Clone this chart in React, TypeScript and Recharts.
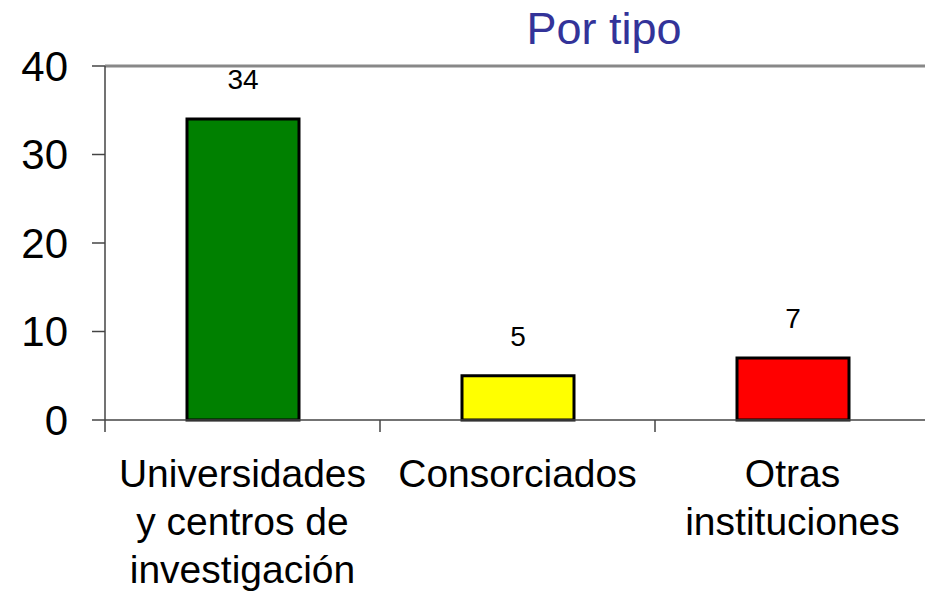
import React from "react";
import { BarChart, Bar, XAxis, YAxis, Cell, ReferenceLine, LabelList } from "recharts";

const categories = ["Universidades y centros de investigación", "Consorciados", "Otras instituciones"];
const categoryLines = [
  ["Universidades", "y centros de", "investigación"],
  ["Consorciados"],
  ["Otras", "instituciones"],
];
const values = [34, 5, 7];
const barColors = ["#008000", "#FFFF00", "#FF0000"];
const yTicks = [0, 10, 20, 30, 40];

const data = categories.map((name, i) => ({ name, value: values[i], idx: i }));

const FONT = "'Liberation Sans', Arial, sans-serif";

const CategoryTick = (props: any) => {
  const { x, y, payload } = props;
  const lines = categoryLines[payload.index] || [payload.value];
  const off = payload.offset || 0;
  return (
    <g>
      <line x1={x - off} x2={x - off} y1={y} y2={y + 12} stroke="#444" strokeWidth={1.5} />
      <text x={x} y={y} textAnchor="middle" fontFamily={FONT} fontSize={39} fill="#000">
        {lines.map((l: string, i: number) => (
          <tspan key={i} x={x} y={y + 67 + i * 48}>
            {l}
          </tspan>
        ))}
      </text>
    </g>
  );
};

const ValueLabel = (props: any) => {
  const { x, y, width, value } = props;
  return (
    <text x={x + width / 2} y={y - 30} textAnchor="middle" fontFamily={FONT} fontSize={28} fill="#000">
      {value}
    </text>
  );
};

export default function App() {
  return (
    <div style={{ position: "absolute", left: 0, top: 0, width: 925, height: 597, overflow: "hidden", background: "#fff" }}>
      <BarChart width={935} height={597} data={data} margin={{ top: 66, right: 5, left: 0, bottom: 0 }} barSize={112}>
        <text x={604} y={44} textAnchor="middle" fontFamily={FONT} fontSize={45} fill="#333399">
          Por tipo
        </text>
        <ReferenceLine y={40} stroke="#888" strokeWidth={3} />
        <XAxis
          dataKey="name"
          height={177}
          tickLine={false}
          tickSize={0}
          tickMargin={0}
          interval={0}
          axisLine={{ stroke: "#444", strokeWidth: 1.5 }}
          tick={<CategoryTick />}
        />
        <YAxis
          width={105}
          domain={[0, 40]}
          ticks={yTicks}
          interval={0}
          tickSize={13}
          tickMargin={24}
          axisLine={{ stroke: "#444", strokeWidth: 1.5 }}
          tickLine={{ stroke: "#444", strokeWidth: 1.5 }}
          tick={{ fontSize: 42, fill: "#000", fontFamily: FONT }}
        />
        <Bar dataKey="value" stroke="#000" strokeWidth={3} isAnimationActive={false}>
          {data.map((d, i) => (
            <Cell key={i} fill={barColors[i]} />
          ))}
          <LabelList dataKey="value" content={<ValueLabel />} />
        </Bar>
      </BarChart>
    </div>
  );
}
